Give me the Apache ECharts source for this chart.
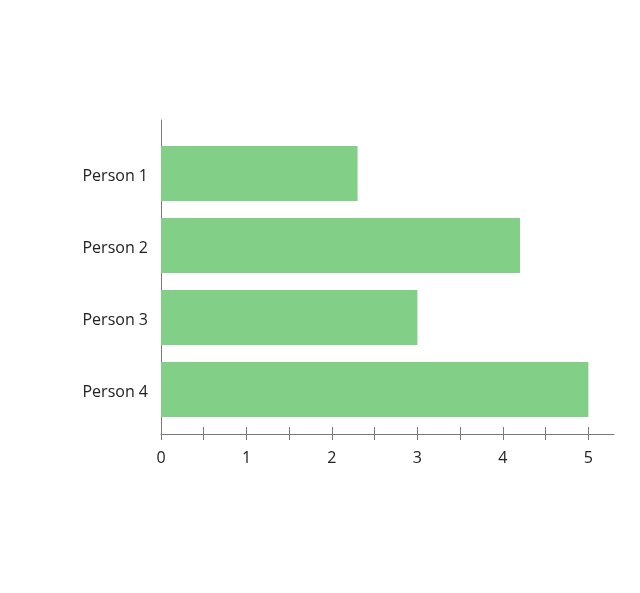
<!DOCTYPE html>
<html>
<head>
<meta charset="utf-8">
<script src="https://cdn.jsdelivr.net/npm/echarts@6/dist/echarts.min.js"></script>
<style>html,body{margin:0;padding:0;background:#fff}#c{width:640px;height:593px}</style>
</head>
<body>
<div id="c"></div>
<script>
const categories = ['Person 1', 'Person 2', 'Person 3', 'Person 4'];
const values = [2.3, 4.2, 3.0, 5.0];
const tickValues = [0, 0.5, 1, 1.5, 2, 2.5, 3, 3.5, 4, 4.5, 5];
const labelValues = [0, 1, 2, 3, 4, 5];
const xMax = 5.3;

const axisColor = '#7a7a7a';
const font = '"Open Sans", sans-serif';
const chart = echarts.init(document.getElementById('c'));
chart.setOption({
  animation: false,
  grid: [
    {left: 161, right: 26, top: 120, bottom: 159},
    {left: 161, right: 26, top: 137.5, height: 288}
  ],
  xAxis: [
    {
      type: 'value', gridIndex: 0, position: 'bottom', min: 0, max: xMax,
      axisLine: {show: true, lineStyle: {color: axisColor, width: 1}},
      axisTick: {show: true, inside: false, length: 6, customValues: tickValues, lineStyle: {color: axisColor}},
      axisLabel: {customValues: labelValues, margin: 16, fontFamily: font, fontSize: 16, color: '#222'},
      splitLine: {show: false}
    },
    {
      type: 'value', gridIndex: 0, position: 'bottom', min: 0, max: xMax,
      axisLine: {show: false},
      axisTick: {show: true, inside: true, length: 7, customValues: tickValues, lineStyle: {color: axisColor}},
      axisLabel: {show: false},
      splitLine: {show: false}
    },
    {
      type: 'value', gridIndex: 1, min: 0, max: xMax, show: false
    }
  ],
  yAxis: [
    {
      type: 'value', gridIndex: 0, min: 0, max: 1,
      axisLine: {show: true, lineStyle: {color: axisColor, width: 1}},
      axisTick: {show: false}, axisLabel: {show: false}, splitLine: {show: false}
    },
    {
      type: 'category', gridIndex: 1, data: categories, inverse: true,
      axisLine: {show: false}, axisTick: {show: false},
      axisLabel: {
        margin: 13,
        formatter: v => '{p|' + v + '}',
        rich: {p: {fontFamily: font, fontSize: 16, color: '#222', padding: [6, 0, 0, 0]}}
      }
    }
  ],
  series: [{
    type: 'bar', xAxisIndex: 2, yAxisIndex: 1, data: values,
    barWidth: 55, itemStyle: {color: '#82cf87'}
  }]
});
</script>
</body>
</html>
